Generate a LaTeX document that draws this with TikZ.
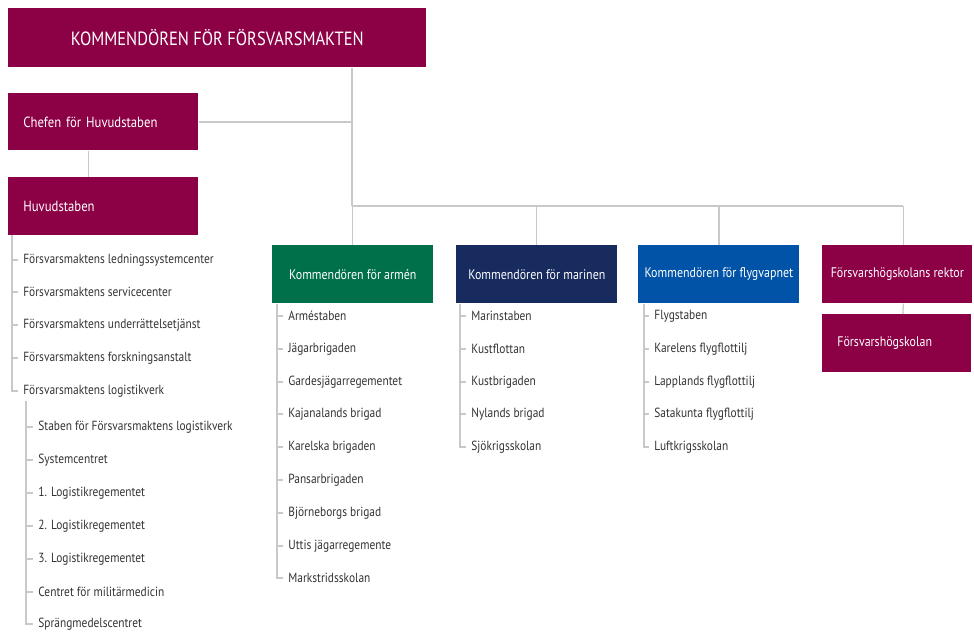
\documentclass[tikz,border=0pt]{standalone}
\usepackage{fontspec}
\setmainfont{PT Sans}[FakeStretch=0.86]
\usetikzlibrary{positioning}
\definecolor{FMred}{HTML}{8C0046}
\definecolor{FMgreen}{HTML}{00704A}
\definecolor{FMnavy}{HTML}{172B5E}
\definecolor{FMblue}{HTML}{0053A6}
\definecolor{Rule}{HTML}{C9C9C9}
\definecolor{Ink}{HTML}{333333}

\begin{document}
\begin{tikzpicture}[x=0.02cm,y=-0.02cm,
    box/.style={fill=#1,text=white,anchor=north west,inner sep=0pt,
      minimum height=1.16cm,font=\fontsize{7.9}{9}\selectfont},
    boxleft/.style={box=#1,inner xsep=0.3cm,align=left},
    unit/.style={anchor=west,inner xsep=0.1cm,inner ysep=1pt,text=Ink,
      font=\fontsize{7.55}{9}\selectfont},
    link/.style={Rule,line width=0.75pt}]
  \useasboundingbox (0,0) rectangle (974,632);

  % top of the chain
  \node[box=FMred,minimum width=8.36cm,minimum height=1.18cm,
        font=\fontsize{10.9}{12}\selectfont] (kfm) at (8,8)
    {KOMMENDÖREN FÖR FÖRSVARSMAKTEN};
  \node[boxleft=FMred,text width=3.2cm,minimum height=1.14cm,
        font=\fontsize{8.4}{10}\selectfont] (chs) at (8,93)
    {Chefen för Huvudstaben};
  \node[boxleft=FMred,text width=3.2cm,
        font=\fontsize{8.4}{10}\selectfont] (hs) at (8,177) {Huvudstaben};

  % commanders
  \node[box=FMgreen,minimum width=3.22cm] (arm) at (272,245) {Kommendören för armén};
  \node[box=FMnavy,minimum width=3.22cm] (mar) at (456,245) {Kommendören för marinen};
  \node[box=FMblue,minimum width=3.22cm] (fly) at (638,245) {Kommendören för flygvapnet};
  \node[box=FMred,minimum width=3.0cm] (rek) at (822,245) {Försvarshögskolans rektor};
  \node[boxleft=FMred,text width=2.38cm] (fhs) at (822,314) {Försvarshögskolan};

  % main lines
  \coordinate (split) at (352,206);
  \draw[link] (split |- kfm.south) -- (split);
  \draw[link] (chs.east) -- (chs.east -| split);
  \draw[link] ([xshift=-0.3cm]chs.south) -- ([xshift=-0.3cm]hs.north);
  \draw[link] (split) -- (split -| 903,0);
  \draw[link] (arm.north) -- (arm.north |- split);
  \draw[link] (mar.north) -- (mar.north |- split);
  \draw[link] (fly.north) -- (fly.north |- split);
  \draw[link] ([xshift=0.12cm]rek.north) -- ([xshift=0.12cm]rek.north |- split);
  \draw[link] ([xshift=0.12cm]rek.south) -- ([xshift=0.12cm]fhs.north);

  % units under Huvudstaben
  \node[unit] (hs1) at (18,260) {Försvarsmaktens ledningssystemcenter};
  \node[unit] (hs2) at (18,292) {Försvarsmaktens servicecenter};
  \node[unit] (hs3) at (18,325) {Försvarsmaktens underrättelsetjänst};
  \node[unit] (hs4) at (18,358) {Försvarsmaktens forskningsanstalt};
  \node[unit] (hs5) at (18,391) {Försvarsmaktens logistikverk};
  \coordinate (hsrail) at (12,235);
  \foreach \u in {hs1,hs2,hs3,hs4,hs5}
    \draw[link] (hsrail) |- (\u.west);

  % logistics centres
  \node[unit] (lv1) at (33,427) {Staben för Försvarsmaktens logistikverk};
  \node[unit] (lv2) at (33,460) {Systemcentret};
  \node[unit] (lv3) at (33,493) {1. Logistikregementet};
  \node[unit] (lv4) at (33,526) {2. Logistikregementet};
  \node[unit] (lv5) at (33,559) {3. Logistikregementet};
  \node[unit] (lv6) at (33,592) {Centret för militärmedicin};
  \node[unit] (lv7) at (33,624) {Sprängmedelscentret};
  \coordinate (lvrail) at (26,401);
  \foreach \u in {lv1,lv2,lv3,lv4,lv5,lv6,lv7}
    \draw[link] (lvrail) |- (\u.west);

  % army
  \node[unit] (a1) at (283,316) {Arméstaben};
  \node[unit] (a2) at (283,349) {Jägarbrigaden};
  \node[unit] (a3) at (283,382) {Gardesjägarregementet};
  \node[unit] (a4) at (283,414) {Kajanalands brigad};
  \node[unit] (a5) at (283,447) {Karelska brigaden};
  \node[unit] (a6) at (283,480) {Pansarbrigaden};
  \node[unit] (a7) at (283,513) {Björneborgs brigad};
  \node[unit] (a8) at (283,546) {Uttis jägarregemente};
  \node[unit] (a9) at (283,578) {Markstridsskolan};
  \foreach \u in {a1,a2,a3,a4,a5,a6,a7,a8,a9}
    \draw[link] ([xshift=0.1cm]arm.south west) |- (\u.west);

  % navy
  \node[unit] (m1) at (466,316) {Marinstaben};
  \node[unit] (m2) at (466,349) {Kustflottan};
  \node[unit] (m3) at (466,382) {Kustbrigaden};
  \node[unit] (m4) at (466,414) {Nylands brigad};
  \node[unit] (m5) at (466,447) {Sjökrigsskolan};
  \foreach \u in {m1,m2,m3,m4,m5}
    \draw[link] ([xshift=0.08cm]mar.south west) |- (\u.west);

  % air force
  \node[unit] (f1) at (649,316) {Flygstaben};
  \node[unit] (f2) at (649,349) {Karelens flygflottilj};
  \node[unit] (f3) at (649,382) {Lapplands flygflottilj};
  \node[unit] (f4) at (649,414) {Satakunta flygflottilj};
  \node[unit] (f5) at (649,447) {Luftkrigsskolan};
  \foreach \u in {f1,f2,f3,f4,f5}
    \draw[link] ([xshift=0.12cm]fly.south west) |- (\u.west);
\end{tikzpicture}
\end{document}
